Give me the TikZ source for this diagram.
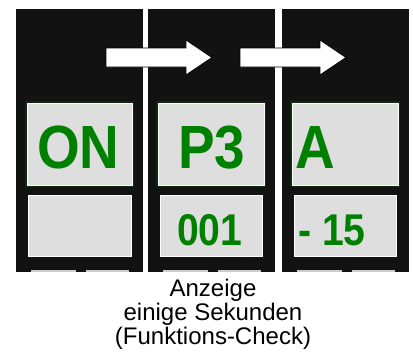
\documentclass[tikz,border=0pt]{standalone}
\usepackage{fontspec}
\setmainfont{Liberation Sans}
\definecolor{panelc}{HTML}{121212}
\definecolor{boxc}{HTML}{DEDEDE}
\definecolor{txtgreen}{HTML}{008000}
\definecolor{glowc}{HTML}{0E2A0E}
\begin{document}
\begin{tikzpicture}[x=1pt,y=-1pt,
  panel/.style={fill=panelc},
  upbox/.style={draw=white,line width=1pt,fill=boxc,inner sep=0pt,anchor=north west},
  lowbox/.style={draw=white,line width=1pt,fill=boxc,inner sep=0pt,anchor=north west},
  glow/.style={draw=glowc,line width=2pt},
  bigtxt/.style={text=txtgreen,inner sep=0pt,anchor=base west,font=\fontsize{61}{61}\selectfont\bfseries},
  midtxt/.style={text=txtgreen,inner sep=0pt,anchor=base west,font=\fontsize{44.5}{44.5}\selectfont\bfseries},
  stub/.style={fill=white!80!black,draw=none},
  blockarrow/.style={fill=white,draw=black,line width=0.8pt,line join=miter}
]
\useasboundingbox (0,0) rectangle (413,356);
\fill[white] (0,0) rectangle (413,356);
% panels
\fill[panel] (16,9) rectangle (143,272);
\fill[panel] (148,9) rectangle (275,272);
\fill[panel] (282,9) rectangle (409,272);
% bottom stubs
\foreach \o in {0,132,266}{
  \fill[stub] (31+\o,269.5) rectangle (76+\o,272);
  \fill[stub] (86+\o,269.5) rectangle (129+\o,272);
}
% glows
\draw[glow] (26,102) rectangle (133,186);
\draw[glow] (157,102) rectangle (265,186);
\draw[glow] (291,102) rectangle (399,186);
% upper boxes
\node[upbox,minimum width=105pt,minimum height=82pt] (u1) at (27,103) {};
\node[upbox,minimum width=106pt,minimum height=82pt] (u2) at (158,103) {};
\node[upbox,minimum width=106pt,minimum height=82pt] (u3) at (292,103) {};
% lower boxes
\node[lowbox,minimum width=103pt,minimum height=61pt] (l1) at (28,195) {};
\node[lowbox,minimum width=102pt,minimum height=61pt] (l2) at (160,195) {};
\node[lowbox,minimum width=102pt,minimum height=61pt] (l3) at (294,195) {};
% texts
\node[bigtxt] (t1) at (37,168.5) {\scalebox{0.9}[1]{ON}};
\node[bigtxt] (t2) at (178,168.5) {\scalebox{0.9}[1]{P3}};
\node[bigtxt] (t3) at (295,168.5) {\scalebox{0.9}[1]{A}};
\node[midtxt] (t4) at (177,245) {\scalebox{0.88}[1]{001}};
\node[midtxt] (t5) at (298,245) {\scalebox{0.88}[1]{- 15}};
% arrows
\draw[blockarrow] (106,48) -- (186,48) -- (186,40) -- (212,57.5) -- (186,75) -- (186,67) -- (106,67) -- cycle;
\draw[blockarrow] (240,48) -- (320,48) -- (320,40) -- (346,57.5) -- (320,75) -- (320,67) -- (240,67) -- cycle;
% caption
\node[inner sep=0pt,anchor=north,align=center,font=\fontsize{24}{24}\selectfont] (cap) at (213,279) {Anzeige\\einige Sekunden\\(Funktions-Check)};
\end{tikzpicture}
\end{document}
